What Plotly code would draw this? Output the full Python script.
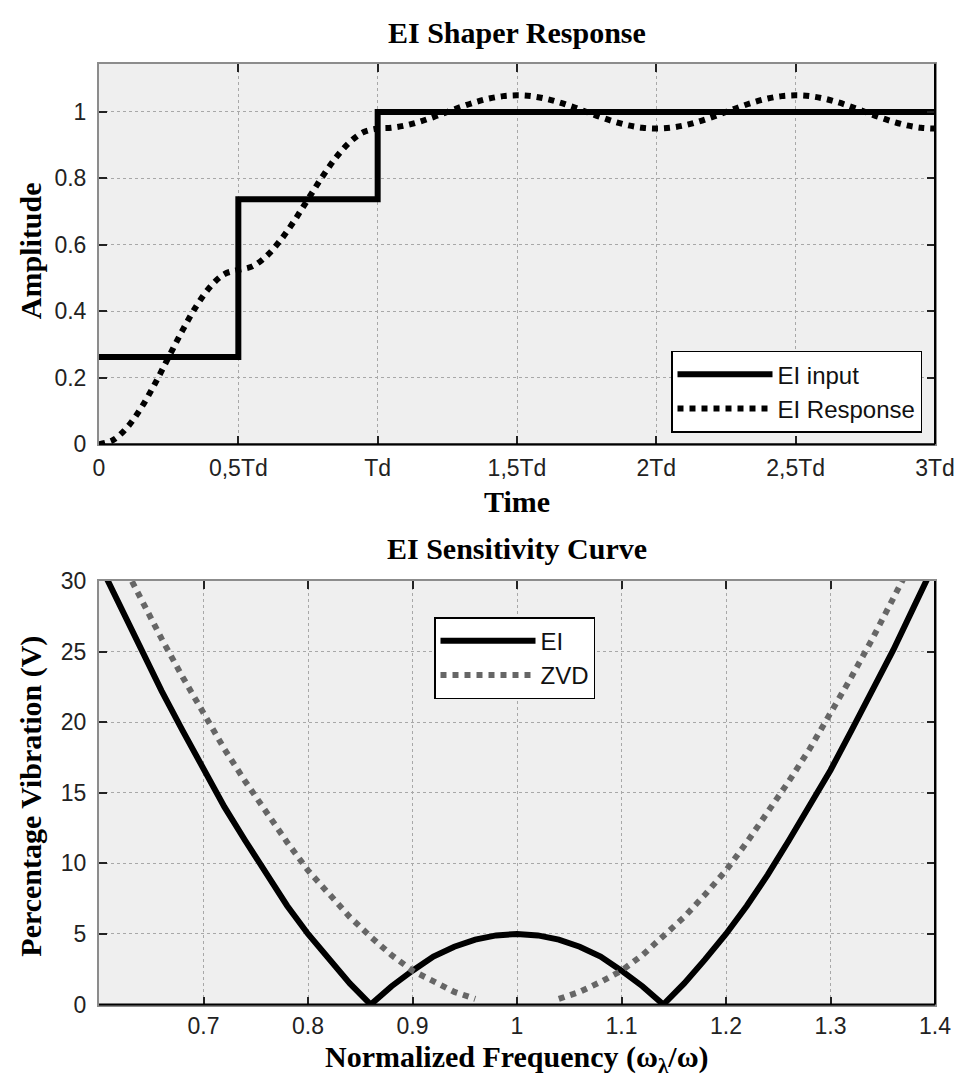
import plotly.graph_objects as go

# ---------------- data: EI shaper response (time in units of Td) ----------------
step_time = [0.0, 0.5, 1.0, 3.0]
step_amplitude = [0.2625, 0.7375, 1.0, 1.0]

resp_time = [0.00, 0.05, 0.10, 0.15, 0.20, 0.25, 0.30, 0.35, 0.40, 0.45,
             0.50, 0.55, 0.60, 0.65, 0.70, 0.75, 0.80, 0.85, 0.90, 0.95,
             1.00, 1.05, 1.10, 1.15, 1.20, 1.25, 1.30, 1.35, 1.40, 1.45,
             1.50, 1.55, 1.60, 1.65, 1.70, 1.75, 1.80, 1.85, 1.90, 1.95,
             2.00, 2.05, 2.10, 2.15, 2.20, 2.25, 2.30, 2.35, 2.40, 2.45,
             2.50, 2.55, 2.60, 2.65, 2.70, 2.75, 2.80, 2.85, 2.90, 2.95, 3.00]
resp_amplitude = [0.0, 0.0128, 0.0501, 0.1082, 0.1814, 0.2625, 0.3436, 0.4168, 0.4749, 0.5122,
                  0.525, 0.5354, 0.5656, 0.6126, 0.6718, 0.7375, 0.8032, 0.8624, 0.9094, 0.9396,
                  0.95, 0.9524, 0.9595, 0.9706, 0.9845, 1.0, 1.0155, 1.0294, 1.0405, 1.0476,
                  1.05, 1.0476, 1.0405, 1.0294, 1.0155, 1.0, 0.9845, 0.9706, 0.9595, 0.9524,
                  0.95, 0.9524, 0.9595, 0.9706, 0.9845, 1.0, 1.0155, 1.0294, 1.0405, 1.0476,
                  1.05, 1.0476, 1.0405, 1.0294, 1.0155, 1.0, 0.9845, 0.9706, 0.9595, 0.9524, 0.95]

time_tickvals = [0, 0.5, 1, 1.5, 2, 2.5, 3]
time_ticktext = ["0", "0,5Td", "Td", "1,5Td", "2Td", "2,5Td", "3Td"]
amp_tickvals = [0, 0.2, 0.4, 0.6, 0.8, 1]
amp_ticktext = ["0", "0.2", "0.4", "0.6", "0.8", "1"]

# ---------------- data: sensitivity curves ----------------
freq = [0.60, 0.62, 0.64, 0.66, 0.68, 0.70, 0.72, 0.74, 0.76, 0.78,
        0.80, 0.82, 0.84, 0.86, 0.88, 0.90, 0.92, 0.94, 0.96, 0.98,
        1.00, 1.02, 1.04, 1.06, 1.08, 1.10, 1.12, 1.14, 1.16, 1.18,
        1.20, 1.22, 1.24, 1.26, 1.28, 1.30, 1.32, 1.34, 1.36, 1.38, 1.40]
ei_vib = [31.3, 28.2, 25.1, 22.2, 19.4, 16.6, 14.0, 11.6, 9.2, 7.0,
          5.0, 3.2, 1.5, 0.0, 1.3, 2.4, 3.4, 4.1, 4.6, 4.9,
          5.0, 4.9, 4.6, 4.1, 3.4, 2.4, 1.3, 0.0, 1.5, 3.2,
          5.0, 7.0, 9.2, 11.6, 14.0, 16.6, 19.4, 22.2, 25.1, 28.2, 31.3]
zvd_vib = [34.5, 31.6, 28.7, 25.9, 23.2, 20.6, 18.1, 15.8, 13.6, 11.5,
           9.5, 7.8, 6.2, 4.8, 3.5, 2.4, 1.6, 0.9, 0.4, None,
           None, None, 0.4, 0.9, 1.6, 2.4, 3.5, 4.8, 6.2, 7.8,
           9.5, 11.5, 13.6, 15.8, 18.1, 20.6, 23.2, 25.9, 28.7, 31.6, 34.5]

freq_tickvals = [0.7, 0.8, 0.9, 1.0, 1.1, 1.2, 1.3, 1.4]
freq_ticktext = ["0.7", "0.8", "0.9", "1", "1.1", "1.2", "1.3", "1.4"]
vib_tickvals = [0, 5, 10, 15, 20, 25, 30]

# ---------------- figure ----------------
W, H = 961, 1081
L, R = 99, 935
SERIF = "Liberation Serif, Times New Roman, serif"
SANS = "Liberation Sans, Arial, Helvetica, sans-serif"


def py(p):
    return 1 - p / H


def px(p):
    return (p - L) / (R - L)


fig = go.Figure()

fig.add_trace(go.Scatter(x=step_time, y=step_amplitude, mode="lines", line_shape="hv",
                         line=dict(color="black", width=6), name="EI input",
                         xaxis="x", yaxis="y", legend="legend"))
fig.add_trace(go.Scatter(x=resp_time, y=resp_amplitude, mode="lines", line_shape="spline",
                         line=dict(color="black", width=6, dash="dot"), name="EI Response",
                         xaxis="x", yaxis="y", legend="legend"))
fig.add_trace(go.Scatter(x=freq, y=ei_vib, mode="lines",
                         line=dict(color="black", width=6), name="EI",
                         xaxis="x2", yaxis="y2", legend="legend2"))
fig.add_trace(go.Scatter(x=freq, y=zvd_vib, mode="lines", connectgaps=False,
                         line=dict(color="#666666", width=6, dash="dot"), name="ZVD",
                         xaxis="x2", yaxis="y2", legend="legend2"))

axis_common = dict(
    showgrid=True, gridcolor="#a8a8a8", griddash="dot", gridwidth=1,
    zeroline=False, showline=True, linecolor="#8c8c8c", linewidth=2, mirror="ticks",
    ticks="inside", ticklen=8, tickwidth=1.5, tickcolor="#222",
    tickfont=dict(family=SANS, size=23, color="#222"),
)

fig.update_layout(
    width=W, height=H,
    margin=dict(l=L, r=W - R, t=0, b=0),
    paper_bgcolor="white", plot_bgcolor="#efefef",
    xaxis=dict(domain=[0, 1], anchor="y", range=[0, 3], tickvals=time_tickvals,
               ticktext=time_ticktext, ticklabelstandoff=2, **axis_common),
    yaxis=dict(domain=[py(442), py(52)], anchor="x", range=[0, 1.145], tickvals=amp_tickvals,
               ticktext=amp_ticktext, ticklabelstandoff=6, **axis_common),
    xaxis2=dict(domain=[0, 1], anchor="y2", range=[0.6, 1.4], tickvals=freq_tickvals,
                ticktext=freq_ticktext, ticklabelstandoff=0, **axis_common),
    yaxis2=dict(domain=[py(1016), py(582)], anchor="x2", range=[0, 30], tickvals=vib_tickvals,
                ticklabelstandoff=6, **axis_common),
    legend=dict(x=px(922), y=py(430), xanchor="right", yanchor="bottom",
                bgcolor="white", bordercolor="black", borderwidth=1.5,
                font=dict(family=SANS, size=24, color="#111"), itemwidth=95,
                tracegroupgap=0),
    legend2=dict(x=px(434), y=py(619), xanchor="left", yanchor="top",
                 bgcolor="white", bordercolor="black", borderwidth=1.5,
                 font=dict(family=SANS, size=24, color="#111"), itemwidth=95,
                 tracegroupgap=0),
    showlegend=True,
)

# dark bottom/right borders (MATLAB look)
for xr, yr in (("x domain", "y domain"), ("x2 domain", "y2 domain")):
    fig.add_shape(type="line", xref=xr, yref=yr, x0=0, x1=1, y0=0, y1=0,
                  line=dict(color="black", width=2))
    fig.add_shape(type="line", xref=xr, yref=yr, x0=1, x1=1, y0=0, y1=1,
                  line=dict(color="black", width=2))

title_font = dict(family=SERIF, size=30, color="black")
annots = [
    dict(text="<b>EI Shaper Response</b>", x=0.5, y=py(20), yanchor="middle", textangle=0),
    dict(text="<b>Time</b>", x=0.5, y=py(501), yanchor="middle", textangle=0),
    dict(text="<b>EI Sensitivity Curve</b>", x=0.5, y=py(549), yanchor="middle", textangle=0),
    dict(text="<b>Normalized Frequency (ω<sub>λ</sub>/ω)</b>", x=0.5, y=py(1050),
         yanchor="top", textangle=0),
    dict(text="<b>Amplitude</b>", x=px(30), y=py(244), yanchor="middle", textangle=-90),
    dict(text="<b>Percentage Vibration (V)</b>", x=px(31), y=py(803), yanchor="middle",
         textangle=-90),
]
for a in annots:
    fig.add_annotation(xref="paper", yref="paper", xanchor="center",
                       showarrow=False, font=title_font, **a)

fig.write_html("out.html")
